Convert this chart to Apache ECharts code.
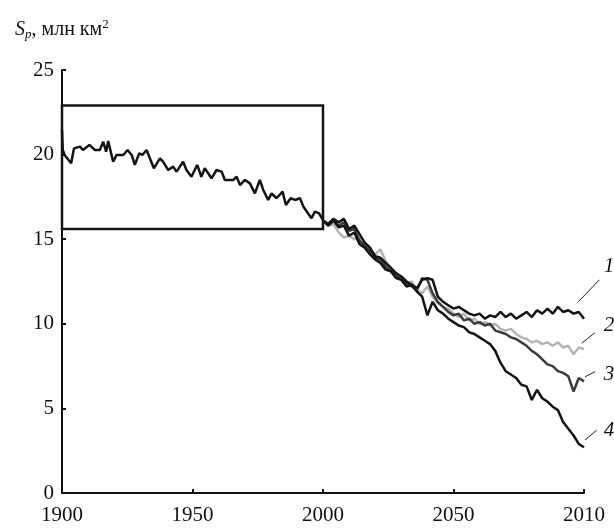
<!DOCTYPE html>
<html>
<head>
<meta charset="utf-8">
<script src="https://cdn.jsdelivr.net/npm/echarts@6/dist/echarts.min.js"></script>
<style>
    html, body { margin: 0; padding: 0; background: #fff; }
    #chart { width: 614px; height: 529px; }
</style>
</head>
<body>
<div id="chart"></div>
<script>
// наблюдения 1900-2000: [год, площадь]
var histYears = [1900, 1900.3, 1901, 1903.5, 1904.6, 1906.9, 1908, 1910.5, 1912.6, 1914.5,
    1915.8, 1916.9, 1917.7, 1919.6, 1920.9, 1923.5, 1925.1, 1926.7, 1927.9, 1929.6,
    1930.8, 1932.4, 1935.2, 1937.5, 1938.7, 1940.7, 1942.6, 1943.9, 1946.4, 1947.7,
    1949.6, 1951.8, 1953.4, 1954.7, 1957.3, 1959.2, 1961.2, 1962.4, 1965.6, 1966.9,
    1968.2, 1970.1, 1972, 1973.9, 1975.8, 1977.1, 1979, 1980.3, 1982.2, 1984.5,
    1985.8, 1987.6, 1989.3, 1991.2, 1992.5, 1995.6, 1996.9, 1998.5, 2000];
var histValues = [21.45, 20.27, 19.98, 19.49, 20.37, 20.47, 20.27, 20.57, 20.27, 20.27,
    20.76, 20.17, 20.8, 19.58, 19.98, 19.98, 20.27, 19.98, 19.39, 20.08,
    19.98, 20.27, 19.19, 19.78, 19.58, 19.09, 19.29, 18.99, 19.58, 19.09,
    18.69, 19.39, 18.69, 19.19, 18.6, 19.09, 18.99, 18.5, 18.5, 18.69,
    18.2, 18.5, 18.3, 17.71, 18.5, 17.91, 17.32, 17.71, 17.42, 17.81,
    17.02, 17.42, 17.32, 17.42, 16.92, 16.24, 16.63, 16.53, 16.13];

// прогнозы 2000-2100, шаг 2 года
var projYears = [2000, 2002, 2004, 2006, 2008, 2010, 2012, 2014, 2016, 2018,
    2020, 2022, 2024, 2026, 2028, 2030, 2032, 2034, 2036, 2038,
    2040, 2042, 2044, 2046, 2048, 2050, 2052, 2054, 2056, 2058,
    2060, 2062, 2064, 2066, 2068, 2070, 2072, 2074, 2076, 2078,
    2080, 2082, 2084, 2086, 2088, 2090, 2092, 2094, 2096, 2098, 2100];
var curve1 = [16.1, 15.9, 16.2, 16.0, 16.2, 15.6, 15.8, 15.3, 14.8, 14.5,
    14.0, 13.9, 13.6, 13.3, 13.0, 12.8, 12.5, 12.3, 12.1, 12.6,
    12.7, 12.6, 11.6, 11.3, 11.1, 10.9, 11.0, 10.8, 10.6, 10.5,
    10.6, 10.3, 10.5, 10.4, 10.7, 10.4, 10.6, 10.3, 10.5, 10.7,
    10.4, 10.8, 10.6, 10.9, 10.6, 11.0, 10.7, 10.8, 10.6, 10.7, 10.3];
var curve2 = [16.1, 15.8, 15.9, 15.4, 15.1, 15.2, 15.0, 15.1, 14.7, 14.3,
    14.1, 14.4, 13.7, 13.3, 12.9, 12.6, 12.4, 12.5, 12.0, 11.8,
    12.2, 11.6, 11.2, 11.0, 10.9, 10.6, 10.4, 10.6, 10.2, 10.3,
    10.0, 10.1, 9.9, 10.0, 9.7, 9.6, 9.7, 9.4, 9.2, 9.1,
    8.9, 9.0, 8.8, 8.9, 8.7, 8.9, 8.6, 8.7, 8.2, 8.6, 8.5];
var curve3 = [16.1, 15.9, 16.2, 15.8, 16.0, 15.5, 15.6, 14.9, 14.6, 14.3,
    13.9, 13.8, 13.4, 13.1, 12.9, 12.6, 12.4, 12.2, 12.0, 12.7,
    12.6, 11.8, 11.3, 11.0, 10.7, 10.5, 10.6, 10.2, 10.3, 10.0,
    10.1, 9.9, 10.0, 9.6, 9.5, 9.4, 9.2, 9.1, 8.9, 8.7,
    8.4, 8.2, 7.9, 7.6, 7.5, 7.2, 7.1, 6.9, 6.0, 6.8, 6.6];
var curve4 = [16.1, 15.8, 16.1, 15.7, 15.8, 15.2, 15.4, 14.7, 14.5, 14.1,
    13.8, 13.6, 13.2, 13.1, 12.7, 12.6, 12.2, 12.3, 11.9, 11.6,
    10.5, 11.3, 10.8, 10.6, 10.3, 10.1, 9.9, 9.8, 9.5, 9.4,
    9.2, 9.0, 8.8, 8.4, 7.7, 7.2, 7.0, 6.8, 6.4, 6.3,
    5.5, 6.1, 5.6, 5.4, 5.1, 4.9, 4.2, 3.8, 3.4, 2.9, 2.7];

var xTickLabels = ['1900', '1950', '2000', '2050', '2010'];
var curveNames = ['1', '2', '3', '4'];
// выноски: [начало линии, конец линии, подпись] в координатах данных
var leaders = [
    [[2097.8, 11.3], [2105.9, 12.6], [2109.6, 13.4]],
    [[2099.1, 8.85], [2104.2, 9.47], [2109.6, 9.9]],
    [[2100.4, 6.87], [2104.2, 7.17], [2109.6, 7.0]],
    [[2100.4, 3.13], [2104.9, 3.72], [2109.6, 3.7]]
];

function zip(xs, ys) {
    var out = [];
    for (var i = 0; i < xs.length; i++) out.push([xs[i], ys[i]]);
    return out;
}

var serif = '"Liberation Serif", "DejaVu Serif", serif';

function lineSeries(name, values, color, z) {
    return {
        name: name,
        type: 'line',
        data: zip(projYears, values),
        showSymbol: false,
        symbol: 'none',
        z: z,
        lineStyle: { color: color, width: 2.5 }
    };
}

var myChart = echarts.init(document.getElementById('chart'));
myChart.setOption({
    animation: false,
    backgroundColor: '#fff',
    title: {
        left: 10,
        top: 13,
        text: '{s|S}{p|p}{t|, млн км}{sup|2}',
        textStyle: {
            fontWeight: 'normal',
            rich: {
                s: { fontFamily: serif, fontStyle: 'italic', fontWeight: 'normal', fontSize: 20, color: '#111' },
                p: { fontFamily: serif, fontStyle: 'italic', fontWeight: 'normal', fontSize: 13, color: '#111', padding: [10, 0, 0, 0] },
                t: { fontFamily: serif, fontWeight: 'normal', fontSize: 20, color: '#111' },
                sup: { fontFamily: serif, fontWeight: 'normal', fontSize: 13, color: '#111', padding: [0, 0, 9, 0] }
            }
        }
    },
    grid: {
        left: 62,
        right: 30,
        top: 70,
        bottom: 36,
        containLabel: false
    },
    xAxis: {
        type: 'value',
        min: 1900,
        max: 2100,
        interval: 50,
        splitLine: { show: false },
        axisLine: { lineStyle: { color: '#111', width: 2 } },
        axisTick: { inside: true, length: 4, lineStyle: { color: '#111', width: 2 } },
        axisLabel: {
            margin: 12,
            color: '#111',
            fontFamily: serif,
            fontSize: 21,
            formatter: function (v) {
                return xTickLabels[Math.round((v - 1900) / 50)];
            }
        }
    },
    yAxis: {
        type: 'value',
        min: 0,
        max: 25,
        interval: 5,
        splitLine: { show: false },
        axisLine: { show: true, lineStyle: { color: '#111', width: 2 } },
        axisTick: { show: true, inside: true, length: 4, lineStyle: { color: '#111', width: 2 } },
        axisLabel: { margin: 8, color: '#111', fontFamily: serif, fontSize: 21 }
    },
    series: [
        lineSeries('2', curve2, '#b4b4b4', 2),
        lineSeries('3', curve3, '#3c3c3c', 3),
        lineSeries('1', curve1, '#141414', 4),
        lineSeries('4', curve4, '#141414', 5),
        {
            name: 'hist',
            type: 'line',
            data: zip(histYears, histValues),
            showSymbol: false,
            symbol: 'none',
            z: 6,
            lineStyle: { color: '#141414', width: 2.5 },
            markArea: {
                silent: true,
                itemStyle: { color: 'rgba(0,0,0,0)', borderColor: '#141414', borderWidth: 2.5 },
                data: [[{ coord: [1900, 22.9] }, { coord: [2000, 15.6] }]]
            }
        }
    ]
});

// выноски с номерами кривых
var graphics = [];
leaders.forEach(function (l, i) {
    var a = myChart.convertToPixel({ gridIndex: 0 }, l[0]);
    var b = myChart.convertToPixel({ gridIndex: 0 }, l[1]);
    var c = myChart.convertToPixel({ gridIndex: 0 }, l[2]);
    graphics.push({
        type: 'line',
        shape: { x1: a[0], y1: a[1], x2: b[0], y2: b[1] },
        style: { stroke: '#222', lineWidth: 1 }
    });
    graphics.push({
        type: 'text',
        x: c[0],
        y: c[1],
        style: {
            text: curveNames[i],
            fontFamily: serif,
            fontStyle: 'italic',
            fontSize: 21,
            fill: '#111',
            align: 'center',
            verticalAlign: 'middle'
        }
    });
});
myChart.setOption({ graphic: graphics });
</script>
</body>
</html>
